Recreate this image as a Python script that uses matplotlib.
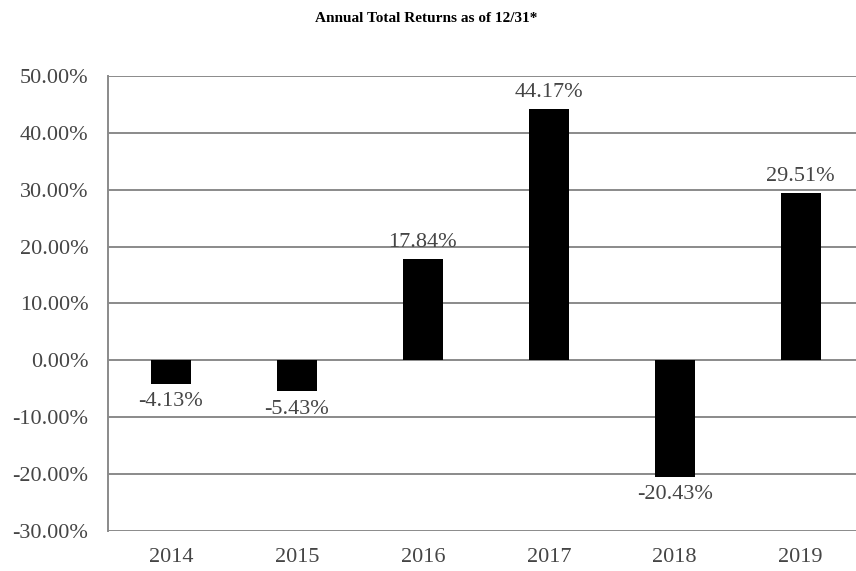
import matplotlib.pyplot as plt

plt.rcParams['font.family'] = ['Liberation Serif', 'DejaVu Serif']

years = ['2014', '2015', '2016', '2017', '2018', '2019']
returns = [-4.13, -5.43, 17.84, 44.17, -20.43, 29.51]
yticks = [50, 40, 30, 20, 10, 0, -10, -20, -30]

text_color = '#454545'
grid_color = '#8a8a8a'

fig = plt.figure(figsize=(8.56, 5.71), dpi=100)
ax = fig.add_axes([0.126, 0.070, 0.883, 0.797])

x = range(len(years))
ax.bar(x, returns, width=0.32, color='black', zorder=3)

for xi, v in zip(x, returns):
    if v >= 0:
        ax.annotate(f'{v:.2f}%', (xi, v), xytext=(0, 5), textcoords='offset points',
                    ha='center', va='bottom', fontsize=16, color=text_color)
    else:
        ax.annotate(f'{v:.2f}%', (xi, v), xytext=(0, -6), textcoords='offset points',
                    ha='center', va='top', fontsize=16, color=text_color)

ax.set_xlim(-0.5, len(years) - 0.5)
ax.set_ylim(-30, 50)
ax.set_yticks(yticks)
ax.set_yticklabels([f'{t:.2f}%' for t in yticks])
ax.set_xticks(list(x))
ax.set_xticklabels(years)
ax.tick_params(axis='both', length=0, labelsize=16, colors=text_color)
ax.tick_params(axis='y', pad=14)
ax.tick_params(axis='x', pad=12)

ax.grid(axis='y', color=grid_color, linewidth=1.4, zorder=0)
for s in ['top', 'right', 'bottom']:
    ax.spines[s].set_visible(False)
ax.spines['left'].set_color(grid_color)
ax.spines['left'].set_linewidth(1.4)

fig.text(0.498, 0.968, 'Annual Total Returns as of 12/31*', ha='center', va='center',
         fontsize=11, fontweight='bold', color='black')

fig.savefig('out.png', dpi=100)
